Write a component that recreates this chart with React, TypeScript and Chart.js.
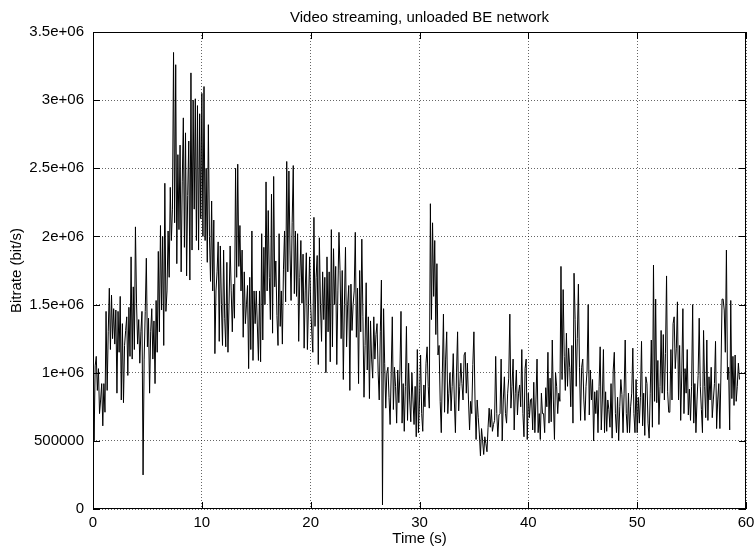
import React, { useEffect, useRef } from 'react';
import { Chart, registerables } from 'chart.js';

Chart.register(...registerables);

const CHART_TITLE = 'Video streaming, unloaded BE network';
const X_AXIS_TITLE = 'Time (s)';
const Y_AXIS_TITLE = 'Bitrate (bit/s)';

const SAMPLE_INTERVAL_S = 0.1;

const xTickValues = [0, 10, 20, 30, 40, 50, 60];
const yTickValues = [0, 500000, 1000000, 1500000, 2000000, 2500000, 3000000, 3500000];
const yTickLabels = ['0', '500000', '1e+06', '1.5e+06', '2e+06', '2.5e+06', '3e+06', '3.5e+06'];

// Bitrate samples in kbit/s, one every 0.1 s
const bitrate0to10 = [
  1450, 500, 1050, 1120, 870, 1030, 700, 800, 920, 610,
  920, 710, 1450, 870, 1300, 1620, 1170, 1570, 1250, 1470,
  1210, 1460, 850, 1450, 1150, 1560, 800, 1360, 780, 1200,
  1310, 1410, 980, 1480, 1120, 1850, 1100, 1630, 1170, 2070,
  1510, 1210, 1390, 1070, 1300, 1450, 250, 1100, 1450, 1840,
  1190, 1400, 850, 1300, 1470, 1100, 1380, 920, 1530, 1150,
  1890, 1300, 2080, 1460, 2000, 1200, 2390, 1450, 1600, 2040,
  1700, 2360, 1970, 2200, 3350, 2100, 3260, 1800, 2600, 2050,
  2670, 1740, 2400, 2870, 1920, 2760, 1710, 2300, 2700, 1680,
  3200, 1900, 3000, 2200, 3010, 1970, 2960, 1900, 2900, 2130,
];
const bitrate10to20 = [
  3050, 2000, 3100, 1970, 2500, 1810, 2820, 2000, 1670, 2260,
  1600, 2120, 1140, 1600, 1740, 1960, 1230, 1930, 1500, 1200,
  1900, 1400, 1190, 1810, 1150, 1500, 1930, 1600, 1300, 1650,
  1400, 2500, 1700, 2530, 1780, 2080, 1600, 1900, 1260, 1740,
  1360, 1500, 1640, 1030, 1700, 1170, 2040, 1090, 1600, 1360,
  1600, 1350, 1090, 1600, 1080, 2020, 1240, 1920, 1500, 2400,
  1600, 2190, 1700, 1390, 2310, 1290, 2440, 1630, 1820, 1420,
  1200, 2020, 1340, 1600, 1210, 1760, 2040, 1520, 2550, 1740,
  2480, 1900, 1530, 2100, 2520, 1580, 2040, 1560, 2020, 1230,
  1700, 1970, 1510, 1870, 1180, 1600, 1880, 1170, 1500, 1850,
];
const bitrate20to30 = [
  1500, 1300, 1150, 2140, 1340, 1700, 1860, 1060, 1990, 1500,
  1230, 1740, 1390, 1700, 1000, 1850, 1300, 1740, 1080, 2050,
  1190, 1910, 1500, 1780, 1060, 1600, 2030, 1750, 1250, 1750,
  950, 1500, 1920, 1190, 1500, 1640, 870, 1650, 1310, 1500,
  1600, 2030, 1260, 1620, 920, 1750, 1300, 1980, 1410, 820,
  1200, 1660, 1020, 1410, 810, 1380, 1100, 960, 1410, 1100,
  1280, 1360, 1000, 800, 1300, 1680, 30, 1470, 1070, 740,
  1000, 1040, 820, 620, 1000, 1410, 730, 1040, 900, 630,
  1020, 780, 1000, 1450, 630, 920, 570, 900, 1340, 650,
  1070, 800, 640, 1000, 800, 620, 900, 530, 1170, 560,
];
const bitrate30to40 = [
  800, 1130, 700, 570, 910, 750, 1070, 1190, 900, 740,
  2240, 1390, 2100, 1560, 1970, 1280, 1800, 1130, 1200, 790,
  560, 1000, 1430, 710, 1100, 1300, 700, 850, 1000, 720,
  900, 1140, 800, 560, 1000, 1300, 720, 900, 1070, 920,
  800, 1130, 1150, 850, 1070, 800, 580, 790, 700, 1060,
  1300, 800, 510, 800, 670, 550, 390, 590, 500, 400,
  530, 480, 420, 600, 740, 600, 730, 570, 620, 650,
  1120, 700, 530, 690, 700, 1100, 500, 800, 970, 700,
  630, 850, 960, 1430, 740, 900, 1100, 580, 850, 1020,
  690, 850, 910, 750, 1170, 700, 530, 1030, 1100, 510,
];
const bitrate40to50 = [
  850, 670, 800, 810, 580, 930, 560, 800, 1100, 560,
  700, 510, 850, 700, 700, 560, 890, 750, 1150, 630,
  960, 640, 1240, 800, 510, 1000, 900, 700, 850, 790,
  1780, 950, 1610, 1120, 870, 1290, 900, 1180, 1040, 750,
  1200, 630, 1730, 1390, 900, 1250, 1650, 1040, 650, 1040,
  1100, 800, 650, 900, 1020, 1500, 690, 1020, 800, 950,
  500, 860, 700, 870, 560, 900, 1190, 580, 800, 1170,
  560, 860, 570, 800, 730, 600, 920, 520, 1020, 1150,
  700, 560, 820, 500, 750, 950, 840, 560, 850, 1240,
  700, 560, 850, 560, 750, 850, 1180, 700, 560, 950,
];
const bitrate50to60 = [
  560, 820, 630, 820, 1230, 610, 850, 540, 970, 920,
  630, 520, 850, 1240, 600, 1790, 790, 1540, 780, 1090,
  620, 900, 1310, 850, 1280, 800, 1140, 1710, 860, 710,
  710, 1170, 800, 1360, 1410, 1030, 1180, 1520, 800, 1200,
  650, 1000, 1470, 700, 1030, 850, 1170, 690, 880, 650,
  900, 1500, 630, 920, 560, 800, 980, 1400, 900, 730,
  560, 1310, 900, 670, 1240, 650, 970, 800, 1040, 670,
  800, 920, 1230, 590, 800, 920, 590, 1000, 1540, 1540,
  1460, 1150, 1900, 950, 1040, 580, 1530, 810, 1120, 760,
  1130, 790, 900, 1070, 950,
];

const FONT_FAMILY = "'Liberation Sans', Arial, Helvetica, sans-serif";
const TICK_MARK_LEN = 7;

const framePlugin = {
  id: 'gnuplotFrame',
  afterDraw(chart: any) {
    const { ctx, chartArea, scales } = chart;
    const { left, right, top, bottom } = chartArea;
    ctx.save();
    ctx.strokeStyle = '#000';
    ctx.lineWidth = 1;
    ctx.beginPath();
    for (const v of xTickValues) {
      const px = Math.round(scales.x.getPixelForValue(v)) + 0.5;
      ctx.moveTo(px, bottom);
      ctx.lineTo(px, bottom - TICK_MARK_LEN);
      ctx.moveTo(px, top);
      ctx.lineTo(px, top + TICK_MARK_LEN);
    }
    for (const v of yTickValues) {
      const py = Math.round(scales.y.getPixelForValue(v)) + 0.5;
      ctx.moveTo(left, py);
      ctx.lineTo(left + TICK_MARK_LEN, py);
      ctx.moveTo(right, py);
      ctx.lineTo(right - TICK_MARK_LEN, py);
    }
    ctx.stroke();
    ctx.strokeRect(Math.round(left) + 0.5, Math.round(top) + 0.5, Math.round(right - left) - 1, Math.round(bottom - top) - 1);
    ctx.restore();
  },
};

export default function App() {
  const canvasRef = useRef<HTMLCanvasElement>(null);

  useEffect(() => {
    const canvas = canvasRef.current;
    if (!canvas) return;
    const series = [
      ...bitrate0to10,
      ...bitrate10to20,
      ...bitrate20to30,
      ...bitrate30to40,
      ...bitrate40to50,
      ...bitrate50to60,
    ];
    const points = series.map((kbps, i) => ({
      x: Math.round(i * SAMPLE_INTERVAL_S * 10) / 10,
      y: kbps * 1000,
    }));

    const chart = new Chart(canvas, {
      type: 'line',
      data: {
        datasets: [
          {
            data: points,
            borderColor: '#000',
            borderWidth: 1,
            pointRadius: 0,
            pointHoverRadius: 0,
            fill: false,
            tension: 0,
          },
        ],
      },
      options: {
        animation: false,
        responsive: false,
        maintainAspectRatio: false,
        events: [],
        layout: { padding: { left: 0, right: 10, top: 0, bottom: 0 } },
        plugins: {
          legend: { display: false },
          tooltip: { enabled: false },
          title: {
            display: true,
            text: CHART_TITLE,
            fullSize: false,
            color: '#000',
            font: { family: FONT_FAMILY, size: 15, weight: 'normal' },
            padding: { top: 9, bottom: 5 },
          },
        },
        scales: {
          x: {
            type: 'linear',
            min: 0,
            max: 60,
            afterBuildTicks: (scale: any) => {
              scale.ticks = xTickValues.map((v) => ({ value: v }));
            },
            afterFit: (scale: any) => {
              scale.height = 39;
              scale.paddingLeft = 0;
              scale.paddingRight = 0;
            },
            ticks: {
              color: '#000',
              font: { family: FONT_FAMILY, size: 15 },
              padding: 5,
              maxRotation: 0,
              autoSkip: false,
              callback: (v: any) => String(v),
            },
            grid: {
              color: 'rgba(0,0,0,0.6)',
              lineWidth: 1,
              drawTicks: false,
            },
            border: { display: false, dash: [1, 2] },
            title: {
              display: true,
              text: X_AXIS_TITLE,
              color: '#000',
              font: { family: FONT_FAMILY, size: 15 },
              padding: { top: 0, bottom: 0 },
            },
          },
          y: {
            type: 'linear',
            min: 0,
            max: 3500000,
            afterBuildTicks: (scale: any) => {
              scale.ticks = yTickValues.map((v) => ({ value: v }));
            },
            afterFit: (scale: any) => {
              scale.width = 93;
            },
            ticks: {
              color: '#000',
              font: { family: FONT_FAMILY, size: 15 },
              padding: 9,
              autoSkip: false,
              callback: (v: any) => {
                const i = yTickValues.indexOf(Number(v));
                return i >= 0 ? yTickLabels[i] : '';
              },
            },
            grid: {
              color: 'rgba(0,0,0,0.6)',
              lineWidth: 1,
              drawTicks: false,
            },
            border: { display: false, dash: [1, 2] },
            title: {
              display: true,
              text: Y_AXIS_TITLE,
              color: '#000',
              font: { family: FONT_FAMILY, size: 15 },
              padding: { top: 8, bottom: 0 },
            },
          },
        },
      },
      plugins: [framePlugin],
    } as any);

    return () => chart.destroy();
  }, []);

  return (
    <div style={{ position: 'fixed', left: 0, top: 0, width: 756, height: 548, background: '#fff' }}>
      <canvas ref={canvasRef} width={756} height={548} style={{ display: 'block', width: 756, height: 548 }} />
    </div>
  );
}
